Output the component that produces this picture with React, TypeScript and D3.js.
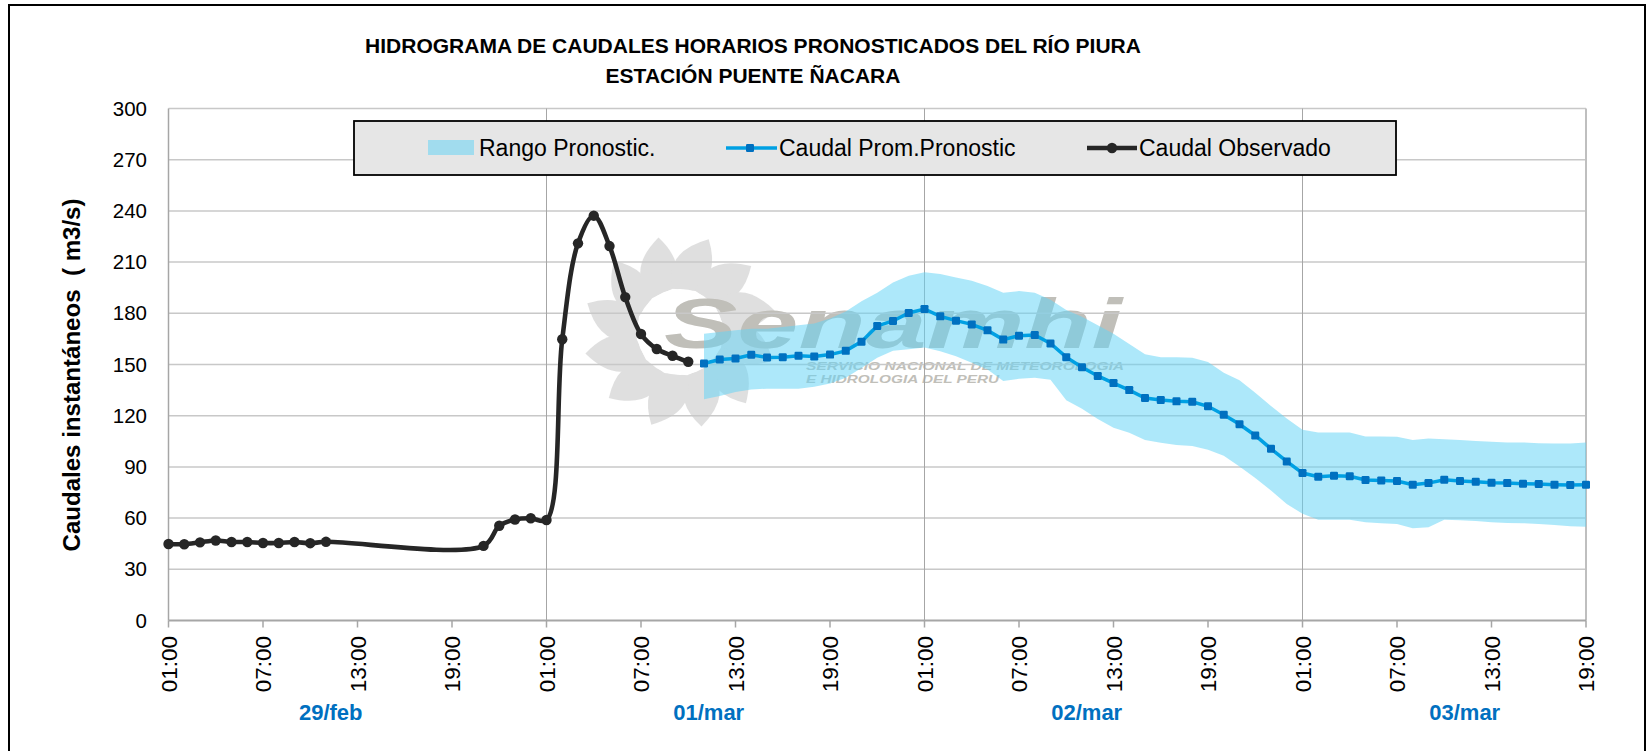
import * as d3 from 'd3';

// Observed flow (hours since 29/feb 01:00)
const OBS_HOURS = [0, 1, 2, 3, 4, 5, 6, 7, 8, 9, 10, 20, 21, 22, 23, 24, 25, 26, 27, 28, 29, 30, 31, 32, 33];
const OBS_VALUES = [44.8, 44.7, 45.8, 46.9, 46.0, 46.0, 45.4, 45.4, 46.0, 45.3, 46.1, 43.7, 55.5, 59.2, 59.9, 58.9,
  164.8, 221.0, 237.2, 219.4, 189.5, 167.9, 159.1, 155.1, 151.6];

// Forecast: hourly from hour 34 to 90
const FC_START = 34;
const FC_MEAN = [150.6, 152.9, 153.5, 155.7, 154.1, 154.3, 155.1, 154.7, 155.8, 158.0, 163.4, 172.6, 175.5, 180.2,
  182.5, 178.2, 175.7, 173.5, 170.0, 164.6, 166.9, 167.3, 162.3, 154.3, 148.4, 143.3, 139.1, 135.0, 130.4, 129.2,
  128.4, 128.2, 125.5, 120.6, 115.0, 108.4, 100.6, 93.2, 86.4, 84.2, 84.8, 84.5, 82.3, 82.1, 81.7, 79.6, 80.5,
  82.5, 81.7, 81.3, 80.7, 80.5, 80.1, 80.0, 79.6, 79.4, 79.6];
const FC_UPPER = [168, 169, 170, 171, 171, 172, 173, 174, 177, 181, 187, 192, 198, 202, 204, 203, 201, 199, 196,
  192, 193, 192, 188, 182, 178, 173, 168, 162, 156, 154.3, 154.3, 153.9, 151.4, 145.2, 140.7, 133.5, 125.7,
  118.3, 111.7, 110.1, 110.1, 110.1, 107.8, 107.8, 107.6, 105.8, 106.6, 106.2, 105.8, 105.2, 104.7, 104.3,
  104.3, 103.9, 103.7, 103.7, 104.3];
const FC_LOWER = [129.6, 131.5, 133.9, 135.4, 135.8, 135.8, 135.8, 137.0, 138.9, 142.2, 148, 154, 158, 159, 160,
  157.8, 154.9, 151, 147, 140.3, 141.6, 142.2, 141, 129, 124, 118, 113, 110, 105.7, 104.1, 102.9, 102.3, 100.0,
  96.5, 90.3, 83.5, 76.1, 68.3, 62.5, 59.1, 59.1, 59.1, 57.6, 57.0, 56.6, 54.1, 54.7, 59.1, 58.7, 58.3, 57.6,
  57.2, 57.0, 56.6, 56.0, 55.2, 55.0];

const TICK_LABELS = ['01:00', '07:00', '13:00', '19:00', '01:00', '07:00', '13:00', '19:00', '01:00', '07:00',
  '13:00', '19:00', '01:00', '07:00', '13:00', '19:00'];
const DAY_LABELS = ['29/feb', '01/mar', '02/mar', '03/mar'];
const Y_TICKS = [0, 30, 60, 90, 120, 150, 180, 210, 240, 270, 300];

const FONT = "'Liberation Sans', Arial, sans-serif";
const BAND = 'rgb(100,212,246)';
const BAND_OP = 0.53;
const OBS_COLOR = '#262626';
const FC_LINE = '#00A0E3';
const FC_MARK = '#0070C0';

type Pt = { h: number; v: number };

export default function App() {
  const x = d3.scaleLinear().domain([0, 90]).range([168.5, 1586]);
  const y = d3.scaleLinear().domain([0, 300]).range([620.5, 108.5]);

  const obs: Pt[] = OBS_HOURS.map((h, i) => ({ h, v: OBS_VALUES[i] }));
  const fc = FC_MEAN.map((v, i) => ({ h: FC_START + i, v, lo: FC_LOWER[i], hi: FC_UPPER[i] }));

  const obsPath = d3.line<Pt>().x((d) => x(d.h)).y((d) => y(d.v)).curve(d3.curveCatmullRom.alpha(0.5))(obs) ?? '';
  const fcPath = d3.line<Pt>().x((d) => x(d.h)).y((d) => y(d.v))(fc) ?? '';
  const bandPath = d3.area<typeof fc[0]>().x((d) => x(d.h)).y0((d) => y(d.lo)).y1((d) => y(d.hi))(fc) ?? '';

  const [x0, x1] = x.range();

  // sun watermark petals (flame shapes)
  const cx = 680, cy = 332;
  const petals = d3.range(12).map((i) => {
    const a = (i / 12) * Math.PI * 2 + 0.1;
    const p = (r: number, da: number) => [cx + r * Math.cos(a + da), cy + r * Math.sin(a + da)];
    const b1 = p(44, -0.27), b2 = p(44, 0.27), tip = p(97, 0.2);
    const c1 = p(82, -0.3), c2 = p(70, 0.5);
    return `M${b1}Q${c1} ${tip}Q${c2} ${b2}Z`;
  });

  return (
    <div>
      <style>{'body{margin:0}'}</style>
      <svg width={1651} height={751} style={{ display: 'block', background: '#fff' }} fontFamily={FONT}>
        <rect x={9} y={5} width={1636} height={752} fill="#fff" stroke="#000" strokeWidth={2} />

        {/* Title */}
        <text x={753} y={52.5} textAnchor="middle" fontSize={21} fontWeight={700} fill="#000">
          HIDROGRAMA DE CAUDALES HORARIOS PRONOSTICADOS DEL RÍO PIURA
        </text>
        <text x={753} y={83} textAnchor="middle" fontSize={21} fontWeight={700} fill="#000">
          ESTACIÓN PUENTE ÑACARA
        </text>

        {/* Watermark */}
        <g opacity={0.85}>
          {petals.map((d, i) => <path key={i} d={d} fill="#dadada" />)}
          <circle cx={cx} cy={cy} r={43} fill="#fff" />
          <text x={664} y={348} fontSize={70} fontWeight={700} fontStyle="italic" fill="#b6b4ad"
            textLength={458} lengthAdjust="spacingAndGlyphs">Senamhi</text>
          <text x={806} y={369.5} fontSize={11.5} fontWeight={700} fontStyle="italic" fill="#b6b4ad"
            textLength={318} lengthAdjust="spacingAndGlyphs">SERVICIO NACIONAL DE METEOROLOGIA</text>
          <text x={806} y={383} fontSize={11.5} fontWeight={700} fontStyle="italic" fill="#b6b4ad"
            textLength={193} lengthAdjust="spacingAndGlyphs">E HIDROLOGIA DEL PERU</text>
        </g>

        {/* Gridlines */}
        {Y_TICKS.filter((t) => t > 0).map((t) => (
          <line key={t} x1={x0} x2={x1} y1={y(t)} y2={y(t)} stroke="#c8c8c8" strokeWidth={1.5} />
        ))}
        {[24, 48, 72].map((h) => (
          <line key={h} x1={x(h)} x2={x(h)} y1={y(300)} y2={y(0)} stroke="#a6a6a6" strokeWidth={1} />
        ))}
        <line x1={x1} x2={x1} y1={y(300)} y2={y(0)} stroke="#bfbfbf" strokeWidth={2} />
        <line x1={x0} x2={x0} y1={y(300)} y2={y(0)} stroke="#a6a6a6" strokeWidth={1.5} />

        {/* Y tick labels */}
        {Y_TICKS.map((t) => (
          <text key={t} x={147} y={y(t)} dy="0.35em" textAnchor="end" fontSize={20.5} fill="#000">{t}</text>
        ))}
        <text transform="translate(80,375) rotate(-90)" textAnchor="middle" fontSize={24} fontWeight={700}
          textLength={353} lengthAdjust="spacingAndGlyphs" fill="#000" style={{ whiteSpace: 'pre' }}>
          {'Caudales instantáneos  ( m3/s)'}
        </text>

        {/* Range band */}
        <path d={bandPath} fill={BAND} fillOpacity={BAND_OP} />

        {/* X axis */}
        <line x1={x0} x2={x1} y1={y(0)} y2={y(0)} stroke="#a6a6a6" strokeWidth={2} />
        {TICK_LABELS.map((lab, i) => {
          const h = i * 6;
          return (
            <g key={i}>
              <line x1={x(h)} x2={x(h)} y1={y(0)} y2={y(0) + 7} stroke="#a6a6a6" strokeWidth={1.5} />
              <text transform={`translate(${x(h)},636) rotate(-90)`} dy="0.36em" textAnchor="end"
                fontSize={22.5} fill="#000">{lab}</text>
            </g>
          );
        })}
        {DAY_LABELS.map((d, i) => (
          <text key={d} x={x(i * 24 + 10.3)} y={720} textAnchor="middle" fontSize={22} fontWeight={700}
            fill="#0070C0">{d}</text>
        ))}

        {/* Forecast mean */}
        <path d={fcPath} fill="none" stroke={FC_LINE} strokeWidth={3.5} />
        {fc.map((d) => (
          <rect key={d.h} x={x(d.h) - 4} y={y(d.v) - 4} width={8} height={8} rx={1.2} fill={FC_MARK} />
        ))}

        {/* Observed */}
        <path d={obsPath} fill="none" stroke={OBS_COLOR} strokeWidth={4.6} strokeLinejoin="round" />
        {obs.map((d) => (
          <circle key={d.h} cx={x(d.h)} cy={y(d.v)} r={5.2} fill={OBS_COLOR} />
        ))}

        {/* Legend */}
        <rect x={354} y={121} width={1042} height={54} fill="#e6e6e6" stroke="#000" strokeWidth={1.8} />
        <rect x={428} y={140} width={46} height={15} fill={BAND} fillOpacity={BAND_OP} />
        <text x={479} y={148} dy="0.35em" fontSize={23} fill="#000">Rango Pronostic.</text>
        <line x1={726} x2={777} y1={148} y2={148} stroke={FC_LINE} strokeWidth={3.5} />
        <rect x={746} y={144} width={8} height={8} rx={1.2} fill={FC_MARK} />
        <text x={779} y={148} dy="0.35em" fontSize={23} fill="#000">Caudal Prom.Pronostic</text>
        <line x1={1087} x2={1137} y1={148} y2={148} stroke={OBS_COLOR} strokeWidth={4.6} />
        <circle cx={1112} cy={148} r={5.2} fill={OBS_COLOR} />
        <text x={1139} y={148} dy="0.35em" fontSize={23} fill="#000">Caudal Observado</text>
      </svg>
    </div>
  );
}
